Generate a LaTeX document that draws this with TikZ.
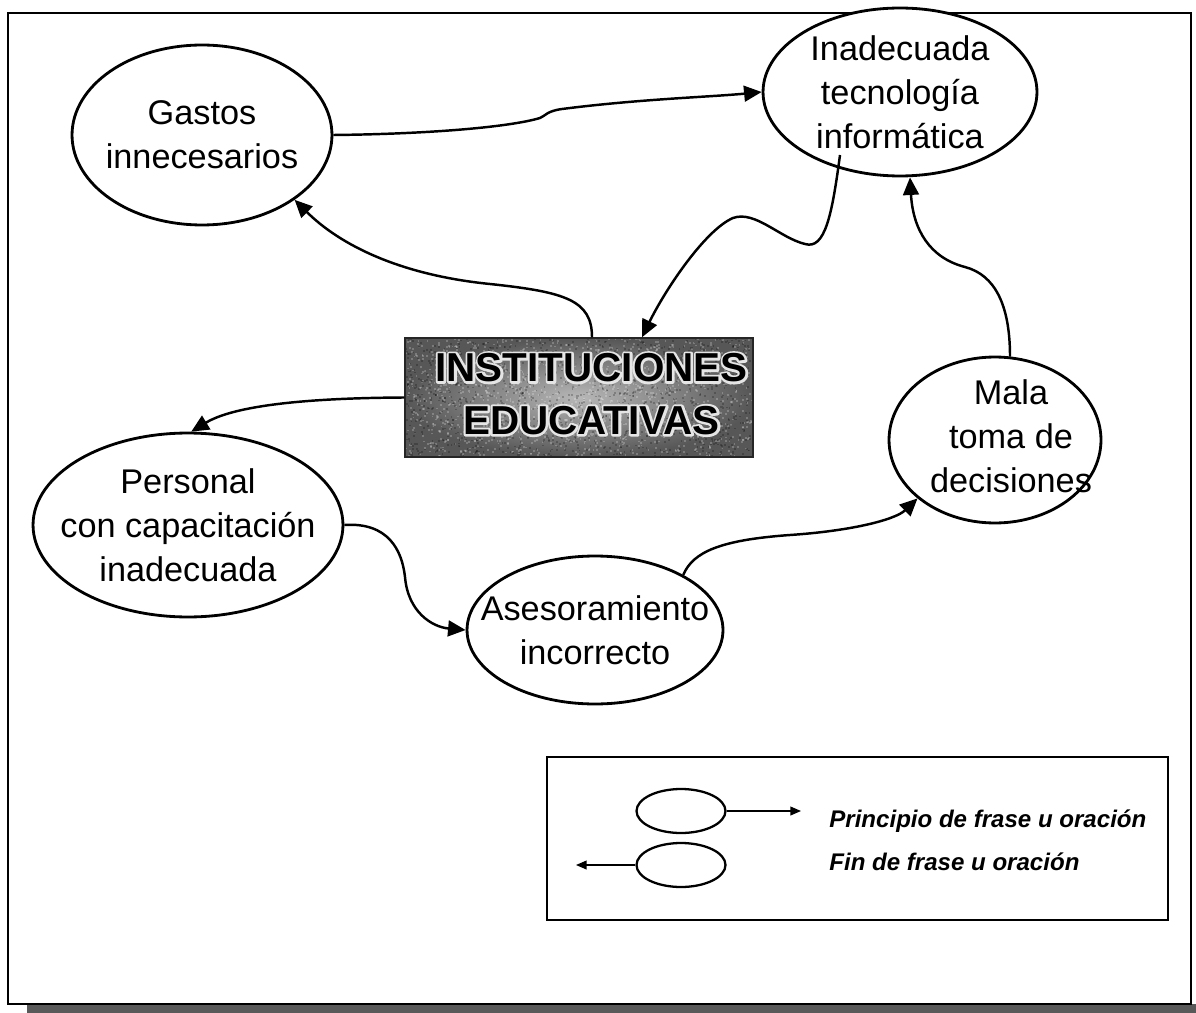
\documentclass[tikz,border=0pt]{standalone}
\usepackage{fontspec}
\setmainfont{Liberation Sans}
\usetikzlibrary{shapes.geometric,arrows.meta,calc}

% bold title word with a pale outline stroked behind it
\newcommand\haloword[1]{%
  \rlap{\special{pdf:literal direct 1 Tr 2.6 w 1 j 0.9 0.9 0.9 RG}#1\special{pdf:literal direct 0 Tr}}#1}

\begin{document}
\begin{tikzpicture}[x=0.02cm,y=-0.02cm,
  idea/.style={ellipse,draw=black,line width=1.6pt,fill=white,
    inner xsep=-1.4cm,inner ysep=-0.6cm,
    align=center,font=\fontsize{19.5}{25}\selectfont},
  link/.style={line width=1.4pt,-{Triangle[length=10pt,width=9pt]}},
  legell/.style={ellipse,draw=black,line width=1.3pt,inner sep=0pt,
    minimum width=1.78cm,minimum height=0.88cm},
  leglink/.style={line width=0.7pt,-{Triangle[length=6pt,width=5pt]}},
  legtext/.style={anchor=base west,inner sep=0pt,
    font=\bfseries\itshape\fontsize{13.7}{16}\selectfont},
  grain/.style={path picture={
    \pgfmathsetseed{11}
    \coordinate (sw) at (path picture bounding box.south west);
    \foreach \k in {1,...,1400}{
      \pgfmathsetmacro\px{rnd*346}\pgfmathsetmacro\py{rnd*118}
      \fill[white,opacity=0.22] ($(sw)+(\px,-\py)$) rectangle +(1.8,-1.8);
      \pgfmathsetmacro\qx{rnd*346}\pgfmathsetmacro\qy{rnd*118}
      \fill[black,opacity=0.22] ($(sw)+(\qx,-\qy)$) rectangle +(1.8,-1.8);
    }}}
]
\useasboundingbox (0,0) rectangle (1196,1013);

% page frame with its drop shadow
\fill[black!65] (27,1004) rectangle (1196,1013);
\draw[line width=0.9pt,fill=white] (8,13) rectangle (1191,1004);

% central title box
\node[draw=black!85,line width=0.8pt,inner sep=0pt,
  minimum width=6.96cm,minimum height=2.38cm,
  shading=radial,inner color=black!28,outer color=black!66,grain,
  font=\bfseries\fontsize{23}{30}\selectfont]
  (inst) at (579,397.5)
  {\hspace*{0.5cm}\begin{tabular}{@{}c@{}}\haloword{INSTITUCIONES}\\\haloword{EDUCATIVAS}\end{tabular}};

% concept ellipses
\node[idea,minimum width=5.2cm,minimum height=3.6cm] (gastos) at (202,135)
  {Gastos\\innecesarios};
\node[idea,minimum width=5.48cm,minimum height=3.36cm] (inad) at (900,92)
  {Inadecuada\\tecnología\\informática};
\node[idea,minimum width=4.24cm,minimum height=3.32cm] (mala) at (995,440)
  {\hspace*{0.64cm}\begin{tabular}{@{}c@{}}Mala\\toma de\\decisiones\end{tabular}};
\node[idea,minimum width=6.2cm,minimum height=3.68cm] (personal) at (188,525)
  {Personal\\con capacitación\\inadecuada};
\node[idea,minimum width=5.12cm,minimum height=2.96cm] (ases) at (595,630)
  {Asesoramiento\\incorrecto};

% connectors
\draw[link] (gastos.east) .. controls (430,134) and (510,127) .. (540,118)
  .. controls (545,116) and (547,111) .. (562,109)
  .. controls (640,99) and (710,97) .. (inad.west);
\draw[link] ($(inst.north)+(13,0)$) .. controls (592,300) and (565,292) .. (490,284)
  .. controls (400,275) and (340,245) .. (gastos.-35);
\draw[link] ($(inad.center)+(-60,63)$) .. controls (832,215) and (825,250) .. (805,244)
  .. controls (780,238) and (755,210) .. (733,218)
  .. controls (705,230) and (665,290) .. ($(inst.north)+(63,0)$);
\draw[link] (inst.west) .. controls (310,398) and (235,405) .. (personal.88);
\draw[link] (personal.east) .. controls (388,522) and (402,550) .. (405,577)
  .. controls (408,612) and (432,627) .. (ases.west);
\draw[link] (ases.32) .. controls (693,552) and (720,540) .. (790,535)
  .. controls (850,531) and (895,520) .. (mala.217);
\draw[link] ($(mala.north)+(15,1)$) .. controls (1010,305) and (995,275) .. (965,267)
  .. controls (930,258) and (913,230) .. ($(inad.south)+(10,0)$);

% legend
\draw[line width=0.7pt] (547,757) rectangle (1168,920);
\node[legell] (l1) at (681,811) {};
\node[legell] (l2) at (681,865) {};
\coordinate (l1end) at (801,811);
\coordinate (l2end) at (576,865);
\draw[leglink] (l1.east) -- (l1end);
\draw[leglink] (l2.west) -- (l2end);
\node[legtext] (t1) at (829,827) {Principio de frase u oración};
\node[legtext] (t2) at (829,870) {Fin de frase u oración};
\end{tikzpicture}
\end{document}
